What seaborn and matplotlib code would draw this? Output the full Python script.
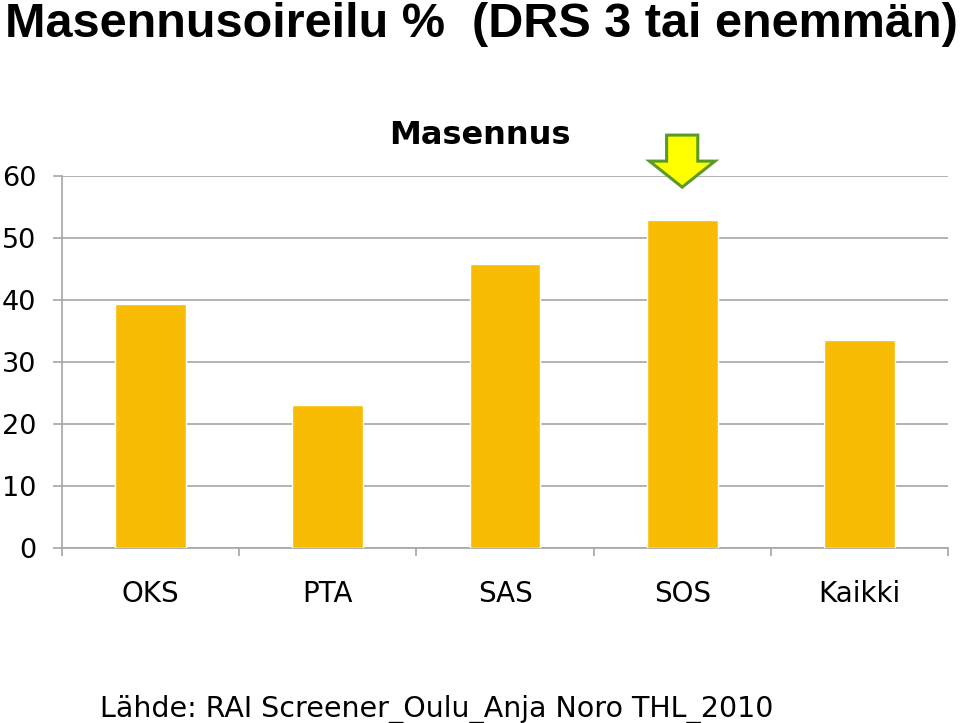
import matplotlib
matplotlib.use("Agg")
import matplotlib.pyplot as plt
from matplotlib.patches import Polygon
import seaborn as sns
import pandas as pd

categories = ["OKS", "PTA", "SAS", "SOS", "Kaikki"]
values = [39.3, 23.1, 45.8, 52.9, 33.6]
y_ticks = [0, 10, 20, 30, 40, 50, 60]
highlight = "SOS"

main_title = "Masennusoireilu %  (DRS 3 tai enemmän)"
chart_title = "Masennus"
footer = "Lähde: RAI Screener_Oulu_Anja Noro THL_2010"

sns.set_theme(style="white")
plt.rcParams['font.family'] = ['DejaVu Sans']
plt.rcParams['text.color'] = 'black'

df = pd.DataFrame({"cat": categories, "val": values})

fig = plt.figure(figsize=(9.6, 7.23), dpi=100)
ax = fig.add_axes([62/960, 1 - 548/723, (948-62)/960, (548-176)/723])

sns.barplot(data=df, x="cat", y="val", color="#F9BC05", saturation=1,
            width=0.40, ax=ax, zorder=3)

grid_c = "#A6A6A6"
ax.set_ylim(0, 60)
ax.set_xlim(-0.5, len(categories) - 0.5)
ax.set_yticks(y_ticks)
ax.set_yticklabels([str(t) for t in y_ticks])
ax.yaxis.grid(True, color=grid_c, linewidth=1.2, zorder=0)
ax.set_axisbelow(True)
for s in ["top", "right"]:
    ax.spines[s].set_visible(False)
ax.spines["left"].set_color(grid_c)
ax.spines["bottom"].set_color(grid_c)
ax.spines["left"].set_linewidth(1.2)
ax.spines["bottom"].set_linewidth(1.2)
ax.tick_params(axis="y", which="major", length=6.5, color=grid_c, width=1.2,
               pad=12, left=True, labelsize=19.5, labelcolor="black")

# x labels at centers, tick marks at boundaries
ax.set_xticks(range(len(categories)))
ax.set_xticklabels(categories)
ax.tick_params(axis="x", which="major", length=0, pad=23, labelsize=20,
               labelcolor="black")
ax.set_xticks([i - 0.5 for i in range(len(categories) + 1)], minor=True)
ax.tick_params(axis="x", which="minor", length=6, color=grid_c, width=1.2, bottom=True)
ax.set_xlabel("")
ax.set_ylabel("")

fig.text(480/960, 1 - 135/723, chart_title, fontsize=23, fontweight="bold",
         va="center", ha="center", color="black")

# Arrow pointing at highlighted bar
xi = categories.index(highlight)
hw, sw = 0.185, 0.088
tip, sh, top = 58.2, 62.4, 66.6
arrow = Polygon([(xi - sw, top), (xi + sw, top), (xi + sw, sh), (xi + hw, sh),
                 (xi, tip), (xi - hw, sh), (xi - sw, sh)], closed=True,
                facecolor="#FFFF00", edgecolor="#5A9A2A", linewidth=2.2,
                clip_on=False, zorder=5)
ax.add_patch(arrow)

fig.text(5/960, 1 - 37/723, main_title, fontsize=35, fontweight="bold",
         family="Liberation Sans", va="baseline", ha="left", color="black")
fig.text(100/960, 1 - 717/723, footer, fontsize=20.5, va="baseline", ha="left",
         color="black")

fig.savefig("out.png", dpi=100)
